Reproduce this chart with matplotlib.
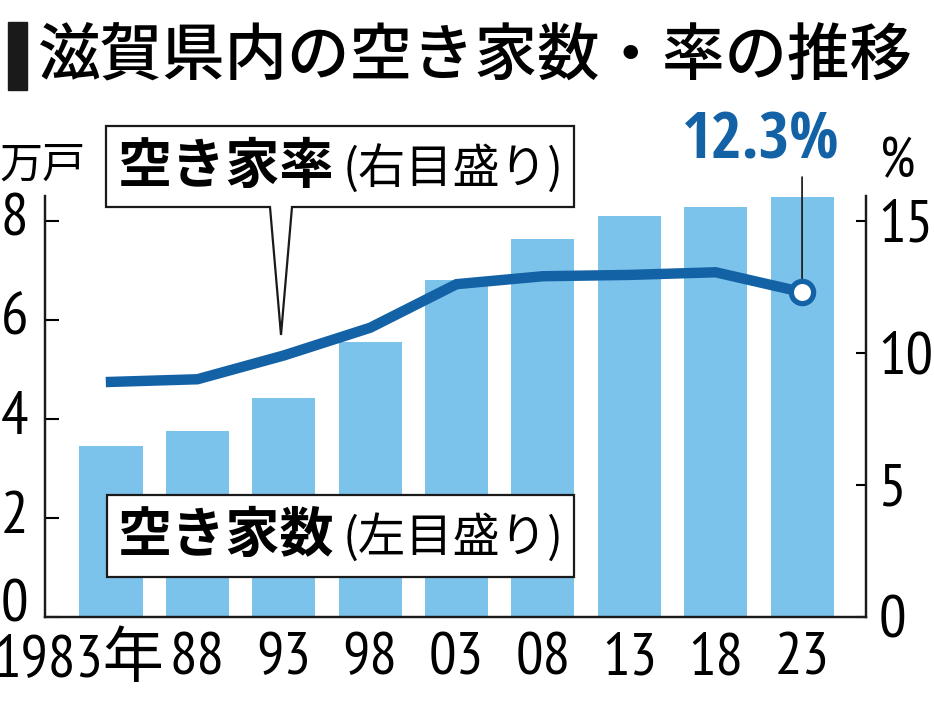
import matplotlib
matplotlib.use("Agg")
import matplotlib.pyplot as plt
from matplotlib import font_manager as fm
from matplotlib.patches import Polygon, Rectangle
from matplotlib.transforms import ScaledTranslation

# data
years = ["1983年", "88", "93", "98", "03", "08", "13", "18", "23"]
vacant = [3.45, 3.76, 4.42, 5.56, 6.80, 7.63, 8.10, 8.28, 8.48]   # 万戸
rate = [8.9, 9.0, 9.9, 10.95, 12.6, 12.9, 12.95, 13.05, 12.3]     # %
left_ticks = [0, 2, 4, 6, 8]
right_ticks = [0, 5, 10, 15]

bar_color = "#7cc3eb"
line_color = "#1462a6"

# condensed faces for the numbers
have = {f.name for f in fm.fontManager.ttflist}


def first_of(names):
    return [n for n in names if n in have][:1]


num_font = first_of(["PT Sans Narrow", "Roboto Condensed", "Barlow Condensed"]) + ["Noto Sans CJK JP", "DejaVu Sans"]
bold_num = first_of(["Open Sans Condensed", "Roboto Condensed"]) + ["DejaVu Sans"]
jp_font = ["Noto Sans CJK JP", "DejaVu Sans"]

W, H = 934, 701
fig = plt.figure(figsize=(W / 100, H / 100), dpi=100)


def fp(x, y):
    # pixel position -> figure fraction
    return (x / W, 1 - y / H)


ax = fig.add_axes([45 / W, 84 / H, (866 - 45) / W, (617 - 196) / H])
ax2 = ax.twinx()

x = list(range(len(years)))
ax.bar(x, vacant, width=0.73, color=bar_color, zorder=1)
ax.set_xlim(-0.764, 8.74)
ax.set_ylim(0, 8.5)
ax2.set_ylim(0, 8.5 * 15 / 8)

ax.set_zorder(1)
ax2.set_zorder(2)
ax.patch.set_visible(False)

ax2.plot(x, rate, color=line_color, lw=7.5, solid_joinstyle="miter", zorder=3)
ax2.plot(x[-1], rate[-1], "o", ms=16, mfc="white", mec=line_color, mew=3.8, zorder=5)
ax2.annotate("", xy=(x[-1], rate[-1]), xytext=(0, 115), textcoords="offset pixels",
             arrowprops=dict(arrowstyle="-", color="#222222", lw=1.3, shrinkA=0, shrinkB=0),
             zorder=4)
ax2.annotate(f"{rate[-1]}%", xy=(x[-1], rate[-1]), xytext=(-41, 150), textcoords="offset pixels",
             ha="center", va="center", fontsize=47, fontweight="bold", color=line_color,
             family=bold_num)

for a in (ax, ax2):
    for s in a.spines.values():
        s.set_linewidth(1.6)
        s.set_color("#1a1a1a")
    a.spines["top"].set_visible(False)

ax.set_xticks(x)
ax.set_xticklabels(years, family=num_font, fontsize=44)
ax.tick_params(axis="x", length=0, pad=11)
ax.set_yticks(left_ticks)
ax.set_yticklabels([str(t) for t in left_ticks], family=num_font, fontsize=44)
ax.tick_params(axis="y", direction="in", length=10, width=1.5, pad=12)
ax2.set_yticks(right_ticks)
ax2.set_yticklabels([str(t) for t in right_ticks], family=num_font, fontsize=44)
ax2.tick_params(axis="y", direction="in", length=7, width=1.5, pad=9)

# nudge labels like the print layout
first = ax.get_xticklabels()[0]
first.set_transform(first.get_transform() + ScaledTranslation(-0.32, 0, fig.dpi_scale_trans))
for i, lab in enumerate(ax.get_yticklabels()):
    dy = 0.16 if i == 0 else 0.06
    lab.set_transform(lab.get_transform() + ScaledTranslation(0, dy, fig.dpi_scale_trans))

# units
fig.text(*fp(0, 166), "万戸", family=jp_font, fontsize=31, ha="left", va="center")
fig.text(*fp(880, 163), "%", family=num_font, fontsize=40, ha="left", va="center")

# title
fig.patches.append(Rectangle(fp(8, 90), 19 / W, 68 / H, transform=fig.transFigure,
                             color="#1a1a1a", zorder=5))
fig.text(*fp(38, 57), "滋賀県内の空き家数・率の推移", family=jp_font, fontsize=45,
         fontweight="medium", ha="left", va="center")

# callout boxes
box1 = [(106, 126), (574, 126), (574, 207), (292, 207), (281, 335), (270, 207), (106, 207)]
fig.patches.append(Polygon([fp(*p) for p in box1], closed=True, transform=fig.transFigure,
                           fc="white", ec="#1a1a1a", lw=1.6, zorder=10))
box2 = [(107, 495), (574, 495), (574, 577), (107, 577)]
fig.patches.append(Polygon([fp(*p) for p in box2], closed=True, transform=fig.transFigure,
                           fc="white", ec="#1a1a1a", lw=1.6, zorder=10))

for y, bold, reg in [(167, "空き家率", "(右目盛り)"), (536, "空き家数", "(左目盛り)")]:
    fig.text(*fp(118, y), bold, family=jp_font, fontsize=39, fontweight="bold",
             ha="left", va="center", zorder=11)
    fig.text(*fp(564, y + 2), reg, family=jp_font, fontsize=34,
             ha="right", va="center", zorder=11)

fig.savefig("out.png", dpi=100)
